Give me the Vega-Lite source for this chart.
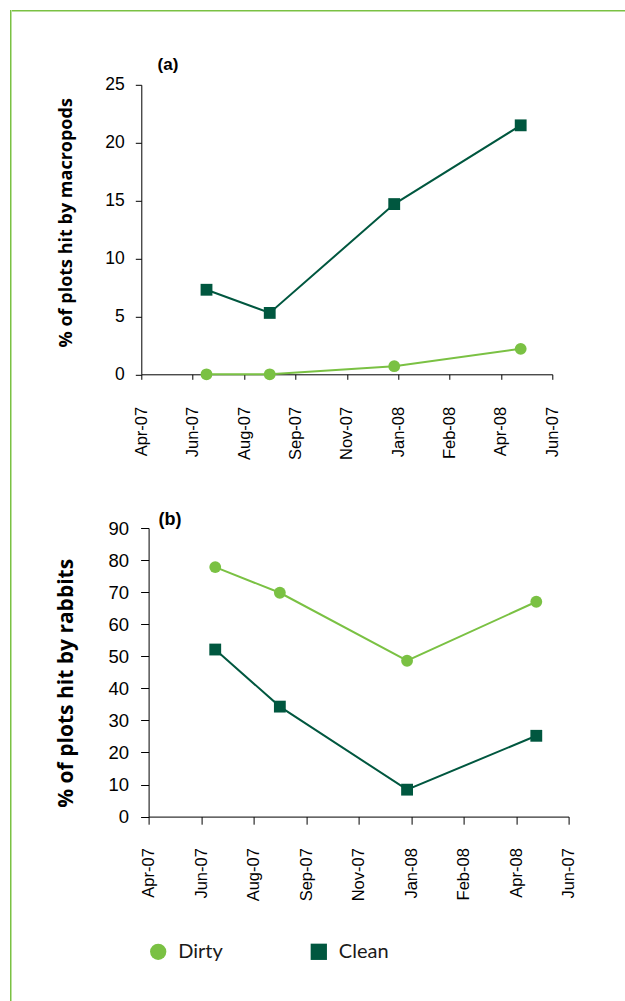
{
  "$schema": "https://vega.github.io/schema/vega-lite/v6.json",
  "background": "white",
  "padding": {"left": 10, "top": 10, "right": 0, "bottom": 0},
  "config": {
    "view": {"stroke": null},
    "axis": {
      "grid": false,
      "domainColor": "#000000",
      "tickColor": "#000000",
      "labelColor": "#000000",
      "titleColor": "#000000",
      "labelFont": "Liberation Sans",
      "titleFont": "Open Sans",
      "titleFontWeight": "bold"
    }
  },
  "datasets": {
    "macropods": [
      {"date": "2007-06-25T00:00:00", "treatment": "Dirty", "pct": 0},
      {"date": "2007-08-28T00:00:00", "treatment": "Dirty", "pct": 0},
      {"date": "2008-01-01T00:00:00", "treatment": "Dirty", "pct": 0.7},
      {"date": "2008-05-08T00:00:00", "treatment": "Dirty", "pct": 2.2},
      {"date": "2007-06-25T00:00:00", "treatment": "Clean", "pct": 7.3},
      {"date": "2007-08-28T00:00:00", "treatment": "Clean", "pct": 5.3},
      {"date": "2008-01-01T00:00:00", "treatment": "Clean", "pct": 14.7},
      {"date": "2008-05-08T00:00:00", "treatment": "Clean", "pct": 21.5}
    ],
    "rabbits": [
      {"date": "2007-06-25T00:00:00", "treatment": "Dirty", "pct": 77.8},
      {"date": "2007-08-28T00:00:00", "treatment": "Dirty", "pct": 69.8},
      {"date": "2008-01-01T00:00:00", "treatment": "Dirty", "pct": 48.6},
      {"date": "2008-05-08T00:00:00", "treatment": "Dirty", "pct": 67.0},
      {"date": "2007-06-25T00:00:00", "treatment": "Clean", "pct": 52.1},
      {"date": "2007-08-28T00:00:00", "treatment": "Clean", "pct": 34.3},
      {"date": "2008-01-01T00:00:00", "treatment": "Clean", "pct": 8.4},
      {"date": "2008-05-08T00:00:00", "treatment": "Clean", "pct": 25.2}
    ],
    "key": [
      {"treatment": "Dirty"},
      {"treatment": "Clean"}
    ]
  },
  "spacing": 0,
  "hconcat": [
    {
      "width": 1.5,
      "height": 991,
      "view": {"fill": "#7AC143", "stroke": null},
      "data": {"values": []},
      "mark": "point"
    },
    {
      "spacing": 43.8,
      "vconcat": [
        {
          "width": 613.5,
          "height": 1.5,
          "view": {"fill": "#7AC143", "stroke": null},
          "data": {"values": []},
          "mark": "point"
        },
        {
          "spacing": 40,
          "vconcat": [
            {
              "spacing": 51.2,
              "vconcat": [
                {
                  "spacing": 43.3,
                  "hconcat": [
                    {
                      "width": 1,
                      "height": 1,
                      "view": {"fill": "white", "stroke": null},
                      "data": {"values": []},
                      "mark": "point"
                    },
                    {
                      "width": 411,
                      "height": 289.5,
                      "title": {"text": "(a)", "anchor": "start", "frame": "group", "dx": 16.3, "offset": 1.7, "font": "Liberation Sans", "fontSize": 17, "fontWeight": "bold", "color": "#000000"},
                      "data": {"name": "macropods"},
                      "encoding": {
                        "x": {
                          "field": "date", "type": "temporal",
                          "scale": {"nice": false, "domain": [{"year": 2007, "month": 4, "date": 20}, {"year": 2008, "month": 6, "date": 9}]},
                          "axis": {
                            "title": null,
                            "values": [
                              {"year": 2007, "month": 4, "date": 20},
                              {"year": 2007, "month": 6, "date": 11},
                              {"year": 2007, "month": 8, "date": 2},
                              {"year": 2007, "month": 9, "date": 23},
                              {"year": 2007, "month": 11, "date": 14},
                              {"year": 2008, "month": 1, "date": 5},
                              {"year": 2008, "month": 2, "date": 26},
                              {"year": 2008, "month": 4, "date": 18},
                              {"year": 2008, "month": 6, "date": 9}
                            ],
                            "labelExpr": "datum.index >= 1 ? 'Jun-07' : timeFormat(datum.value, '%b-%y')",
                            "labelAngle": 270,
                            "labelFlush": false,
                            "labelOverlap": false,
                            "labelBound": false,
                            "labelFontSize": 16.5,
                            "labelPadding": 27,
                            "tickSize": 5
                          }
                        },
                        "y": {
                          "field": "pct", "type": "quantitative",
                          "scale": {"domain": [0, 25], "nice": false},
                          "axis": {
                            "title": "% of plots hit by macropods",
                            "values": [0, 5, 10, 15, 20, 25],
                            "labelFontSize": 17.5,
                            "labelPadding": 11,
                            "tickSize": 6,
                            "titleFontSize": 18,
                            "titleX": -66.2,
                            "titleY": 137.5,
                            "titleAngle": 270,
                            "titleAlign": "center",
                            "titleBaseline": "bottom"
                          }
                        }
                      },
                      "layer": [
                        {
                          "mark": {"type": "line", "strokeWidth": 2},
                          "encoding": {
                            "stroke": {"field": "treatment", "type": "nominal", "scale": {"domain": ["Dirty", "Clean"], "range": ["#7AC143", "#00573F"]}, "legend": null}
                          }
                        },
                        {
                          "mark": {"type": "point", "filled": true, "opacity": 1, "size": 140},
                          "encoding": {
                            "color": {"field": "treatment", "type": "nominal", "scale": {"domain": ["Dirty", "Clean"], "range": ["#7AC143", "#00573F"]}, "legend": null},
                            "shape": {"field": "treatment", "type": "nominal", "scale": {"domain": ["Dirty", "Clean"], "range": ["circle", "square"]}, "legend": null}
                          }
                        }
                      ]
                    }
                  ]
                },
                {
                  "spacing": 41.6,
                  "hconcat": [
                    {
                      "width": 1,
                      "height": 1,
                      "view": {"fill": "white", "stroke": null},
                      "data": {"values": []},
                      "mark": "point"
                    },
                    {
                      "width": 420,
                      "height": 288.6,
                      "title": {"text": "(b)", "anchor": "start", "frame": "group", "dx": 10, "offset": -10, "font": "Liberation Sans", "fontSize": 18, "fontWeight": "bold", "color": "#000000"},
                      "data": {"name": "rabbits"},
                      "encoding": {
                        "x": {
                          "field": "date", "type": "temporal",
                          "scale": {"nice": false, "domain": [{"year": 2007, "month": 4, "date": 20}, {"year": 2008, "month": 6, "date": 9}]},
                          "axis": {
                            "title": null,
                            "values": [
                              {"year": 2007, "month": 4, "date": 20},
                              {"year": 2007, "month": 6, "date": 11},
                              {"year": 2007, "month": 8, "date": 2},
                              {"year": 2007, "month": 9, "date": 23},
                              {"year": 2007, "month": 11, "date": 14},
                              {"year": 2008, "month": 1, "date": 5},
                              {"year": 2008, "month": 2, "date": 26},
                              {"year": 2008, "month": 4, "date": 18},
                              {"year": 2008, "month": 6, "date": 9}
                            ],
                            "labelExpr": "datum.index >= 1 ? 'Jun-07' : timeFormat(datum.value, '%b-%y')",
                            "labelAngle": 270,
                            "labelFlush": false,
                            "labelOverlap": false,
                            "labelBound": false,
                            "labelFontSize": 16.5,
                            "labelPadding": 23.4,
                            "tickSize": 7.6
                          }
                        },
                        "y": {
                          "field": "pct", "type": "quantitative",
                          "scale": {"domain": [0, 90], "nice": false},
                          "axis": {
                            "title": "% of plots hit by rabbits",
                            "values": [0, 10, 20, 30, 40, 50, 60, 70, 80, 90],
                            "labelFontSize": 18.5,
                            "labelPadding": 12,
                            "tickSize": 8,
                            "titleFontSize": 21,
                            "titleX": -72.5,
                            "titleY": 154.8,
                            "titleAngle": 270,
                            "titleAlign": "center",
                            "titleBaseline": "bottom"
                          }
                        }
                      },
                      "layer": [
                        {
                          "mark": {"type": "line", "strokeWidth": 2},
                          "encoding": {
                            "stroke": {"field": "treatment", "type": "nominal", "scale": {"domain": ["Dirty", "Clean"], "range": ["#7AC143", "#00573F"]}, "legend": null}
                          }
                        },
                        {
                          "mark": {"type": "point", "filled": true, "opacity": 1, "size": 140},
                          "encoding": {
                            "color": {"field": "treatment", "type": "nominal", "scale": {"domain": ["Dirty", "Clean"], "range": ["#7AC143", "#00573F"]}, "legend": null},
                            "shape": {"field": "treatment", "type": "nominal", "scale": {"domain": ["Dirty", "Clean"], "range": ["circle", "square"]}, "legend": null}
                          }
                        }
                      ]
                    }
                  ]
                }
              ]
            },
            {
              "spacing": 136.2,
              "hconcat": [
                {
                  "width": 1,
                  "height": 1,
                  "view": {"fill": "white", "stroke": null},
                  "data": {"values": []},
                  "mark": "point"
                },
                {
                  "width": 160.6,
                  "height": 16,
                  "data": {"name": "key"},
                  "encoding": {
                    "x": {"field": "treatment", "type": "nominal", "scale": {"type": "point", "domain": ["Dirty", "Clean"], "padding": 0}, "axis": null}
                  },
                  "layer": [
                    {
                      "mark": {"type": "point", "filled": true, "opacity": 1, "size": 265},
                      "encoding": {
                        "color": {"field": "treatment", "type": "nominal", "scale": {"domain": ["Dirty", "Clean"], "range": ["#7AC143", "#00573F"]}, "legend": null},
                        "shape": {"field": "treatment", "type": "nominal", "scale": {"domain": ["Dirty", "Clean"], "range": ["circle", "square"]}, "legend": null}
                      }
                    },
                    {
                      "mark": {"type": "text", "align": "left", "baseline": "middle", "dx": 20, "font": "Lato", "fontSize": 20, "color": "#1a1a1a"},
                      "encoding": {
                        "text": {"field": "treatment", "type": "nominal"}
                      }
                    }
                  ]
                }
              ]
            }
          ]
        }
      ]
    }
  ]
}
